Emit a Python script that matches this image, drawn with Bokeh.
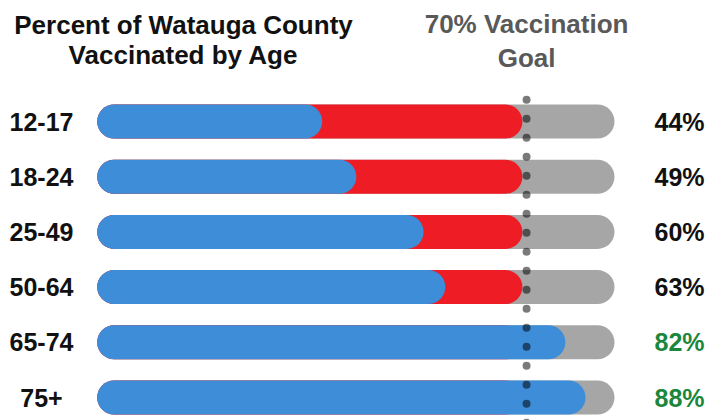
from bokeh.plotting import figure
from bokeh.models import Range1d, ColumnDataSource
from bokeh.embed import file_html
from bokeh.resources import INLINE
from bokeh.core.properties import value

# ---- data ----
ages = ["12-17", "18-24", "25-49", "50-64", "65-74", "75+"]
pct_labels = ["44%", "49%", "60%", "63%", "82%", "88%"]
bar_fill = [43.5, 50.1, 63.1, 67.3, 90.5, 94.4]      # blue bar end, % of grey track as drawn
goal_fill = 82.2                                      # red bar end, % of track
goal_line = 83.0                                      # dotted goal marker, % of track
track_len = 100.0
met_goal = [False, False, False, False, True, True]
title_lines = ["Percent of Watauga County", "Vaccinated by Age"]
goal_lines = ["70% Vaccination", "Goal"]

# ---- layout ----
W, H = 723, 420
X0, XS = 96.7, 5.173       # px of track start, px per track unit
ROW0, ROWS = 121.0, 55.2   # px of first row centre, px per row
BAR_H = 34
FONT = value("Liberation Sans")

def dx(px):
    return (px - X0) / XS

def dy(py):
    return (py - ROW0) / ROWS

n = len(ages)
rows = list(range(n))
r = (BAR_H / 2) / XS

p = figure(width=W, height=H, output_backend="svg", toolbar_location=None,
           x_range=Range1d(dx(0), dx(W)), y_range=Range1d(dy(H), dy(0)),
           x_axis_location=None, y_axis_location=None,
           min_border=0, min_border_left=0, min_border_right=0,
           min_border_top=0, min_border_bottom=0,
           outline_line_color=None, background_fill_color="white",
           border_fill_color="white")
p.grid.visible = False

src = ColumnDataSource(dict(
    y=rows,
    start=[r] * n,
    track_end=[track_len - r] * n,
    red_end=[goal_fill - r] * n,
    blue_end=[v - r for v in bar_fill],
    age=ages,
    pct=pct_labels,
    pct_color=["#1b873c" if m else "#111111" for m in met_goal],
))

p.segment(x0="start", y0="y", x1="track_end", y1="y", source=src,
          line_width=BAR_H, line_cap="round", line_color="#a6a6a6")
p.segment(x0="start", y0="y", x1="red_end", y1="y", source=src,
          line_width=BAR_H, line_cap="round", line_color="#ee1c25")
p.segment(x0="start", y0="y", x1="blue_end", y1="y", source=src,
          line_width=BAR_H, line_cap="round", line_color="#3d8dd9")

# dotted goal marker
p.line(x=[goal_line, goal_line], y=[dy(99.3), dy(H + 20)],
       line_width=8, line_dash="0 19", line_cap="round",
       line_color="black", line_alpha=0.52)

# row labels
p.text(x=dx(41), y="y", text="age", source=src, text_align="center",
       text_baseline="middle", text_font=FONT, text_font_style="bold",
       text_font_size="25px", text_color="#111111")
p.text(x=dx(679), y="y", text="pct", source=src, text_align="center",
       text_baseline="middle", text_font=FONT, text_font_style="bold",
       text_font_size="25px", text_color="pct_color")

# titles
p.text(x=[dx(183)] * 2, y=[dy(24), dy(54.5)], text=title_lines,
       text_align="center", text_baseline="middle", text_font=FONT,
       text_font_style="bold", text_font_size="26px", text_color="#111111")
p.text(x=[goal_line] * 2, y=[dy(23.6), dy(57)], text=goal_lines,
       text_align="center", text_baseline="middle", text_font=FONT,
       text_font_style="bold", text_font_size="26px", text_color="#595959")

open("out.html", "w").write(file_html(p, INLINE))
